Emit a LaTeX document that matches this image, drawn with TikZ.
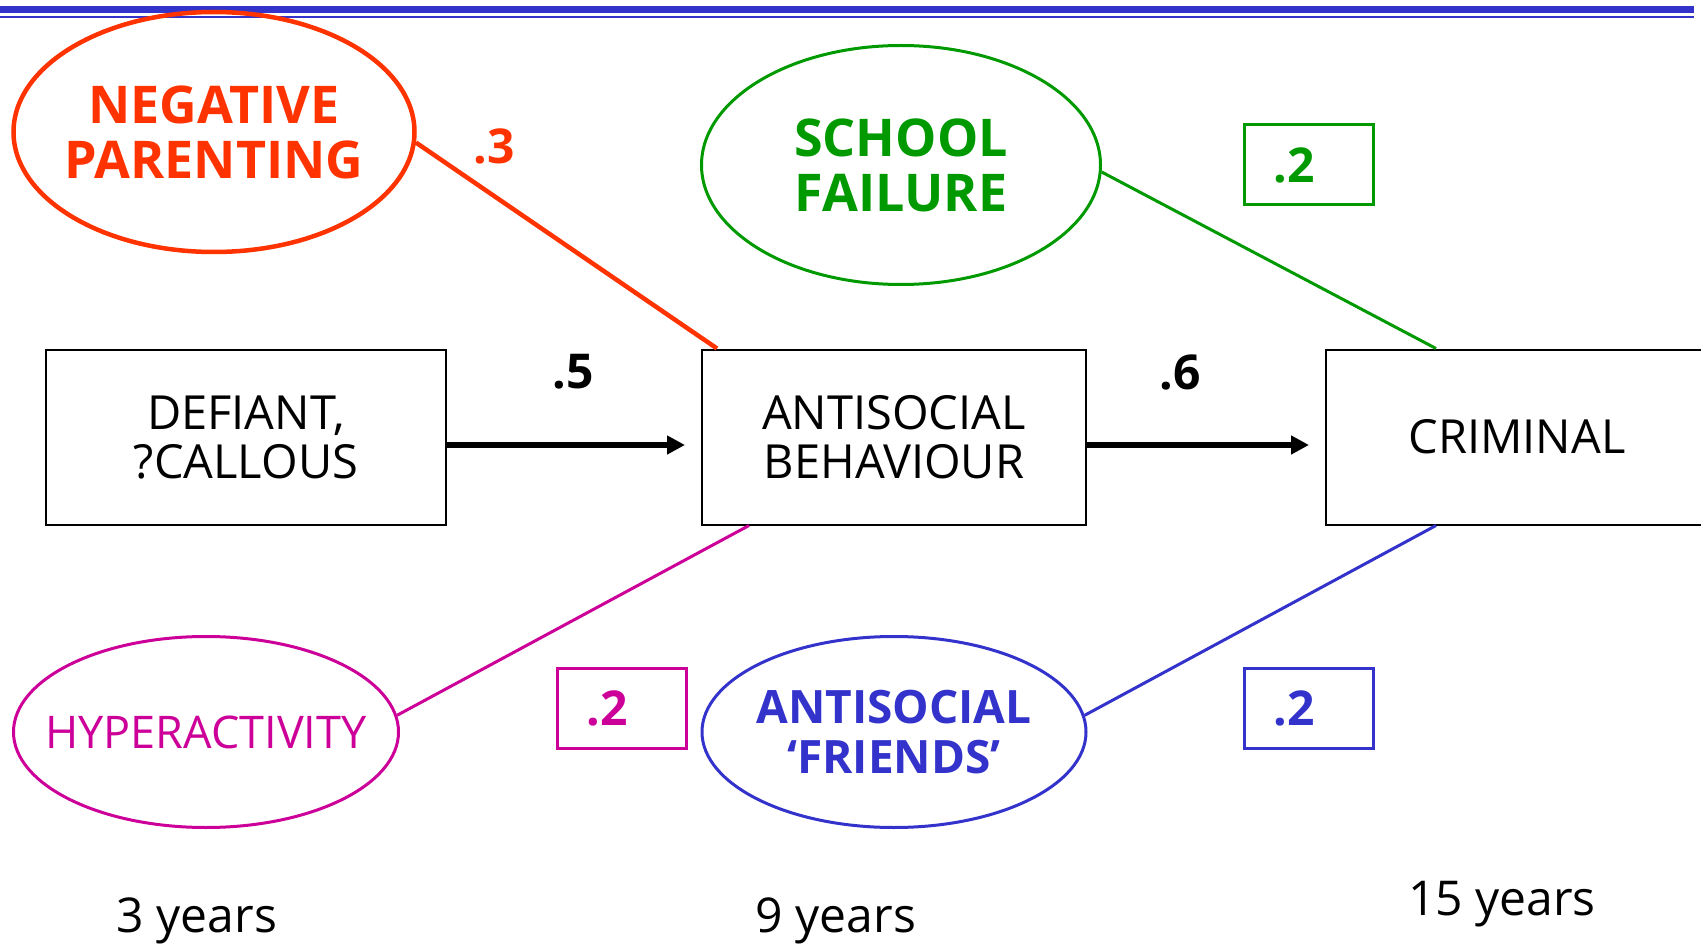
\documentclass[tikz,border=0pt]{standalone}
\usepackage{fontspec}
\setmainfont{Open Sans}
\usetikzlibrary{shapes.geometric,arrows.meta,calc}
\definecolor{cred}{HTML}{FF3300}
\definecolor{cgreen}{HTML}{009900}
\definecolor{cmag}{HTML}{CC0099}
\definecolor{cblue}{HTML}{3333CC}
\tikzset{
  oval/.style={ellipse, inner sep=0pt},
  ovaltext/.style={inner sep=0pt, align=center, font=\fontsize{52}{55}\selectfont\bfseries},
  stagebox/.style={draw=black, line width=2pt, rectangle, inner sep=0pt, minimum height=175pt, align=center, font=\fontsize{47}{49}\selectfont},
  coefbox/.style={rectangle, line width=3pt, inner sep=0pt, minimum width=129pt, minimum height=80pt, font=\fontsize{48}{50}\selectfont\bfseries},
  coef/.style={font=\fontsize{48}{50}\selectfont\bfseries},
  agelabel/.style={font=\fontsize{48}{50}\selectfont},
  patharrow/.style={line width=6pt, -{Triangle[length=18pt,width=18pt]}},
}
\begin{document}
\begin{tikzpicture}[x=1pt,y=-1pt]
\useasboundingbox (0,0) rectangle (1701,944);
\clip (0,0) rectangle (1701,944);
% top rule
\draw[cblue, line width=7pt] (0,9.7) -- (1694,9.7);
\draw[cblue, line width=2.5pt] (0,17.2) -- (1694,17.2);

% stage boxes
\node[stagebox, minimum width=400pt] (def) at (246,437) {DEFIANT,\\?CALLOUS};
\node[stagebox, minimum width=384pt] (asb) at (894,437) {ANTISOCIAL\\BEHAVIOUR};
\node[stagebox, minimum width=382pt] (crim) at (1517,437) {CRIMINAL};

% ellipses
\node[oval, draw=cred, line width=4.5pt, minimum width=401pt, minimum height=240pt] (np) at (214,132) {};
\node[ovaltext, text=cred] (npt) at (np.center) {NEGATIVE\\PARENTING};
\node[oval, draw=cgreen, line width=3pt, minimum width=399pt, minimum height=239pt] (sf) at (901,165) {};
\node[ovaltext, text=cgreen] (sft) at (sf.center) {SCHOOL\\FAILURE};
\node[oval, draw=cmag, line width=3pt, minimum width=385pt, minimum height=191pt] (hy) at (206,732) {};
\node[ovaltext, text=cmag, font=\fontsize{45}{48}\selectfont] (hyt) at (hy.center) {HYPERACTIVITY};
\node[oval, draw=cblue, line width=3pt, minimum width=384pt, minimum height=191pt] (af) at (894,732) {};
\node[ovaltext, text=cblue, font=\fontsize{46}{50}\selectfont\bfseries] (aft) at (af.center) {ANTISOCIAL\\`FRIENDS'};

% connectors
\coordinate (asbtop) at ($(asb.north west)+(16,0)$);
\coordinate (crimtop) at ($(crim.north west)+(111,0)$);
\coordinate (asbbot) at ($(asb.south west)+(48,0)$);
\coordinate (crimbot) at ($(crim.south west)+(111,0)$);
\draw[cred, line width=4.5pt] (np.-3) -- (asbtop);
\draw[cgreen, line width=3pt] (sf.-2) -- (crimtop);
\draw[cmag, line width=3pt] (hy.5) -- (asbbot);
\draw[cblue, line width=3pt] (af.5) -- (crimbot);

\draw[patharrow] ($(def.east)+(0,8)$) -- ($(asb.west)+(-16,8)$) coordinate (a1end);
\draw[patharrow] ($(asb.east)+(0,8)$) -- ($(crim.west)+(-16,8)$) coordinate (a2end);

% coefficients
\node[coef, text=cred] (c3) at (494,146) {.3};
\node[coef] (c5) at (573,372) {.5};
\node[coef] (c6) at (1180,372) {.6};
\node[coefbox, draw=cgreen, text=cgreen] (g2) at (1309,165) {.2\kern30pt};
\node[coefbox, draw=cmag, text=cmag] (m2) at (622,708) {.2\kern30pt};
\node[coefbox, draw=cblue, text=cblue] (b2) at (1309,708) {.2\kern30pt};

% ages
\node[agelabel] (y3) at (197,921) {3 years};
\node[agelabel] (y9) at (836,921) {9 years};
\node[agelabel] (y15) at (1502,904) {15 years};
\end{tikzpicture}
\end{document}
